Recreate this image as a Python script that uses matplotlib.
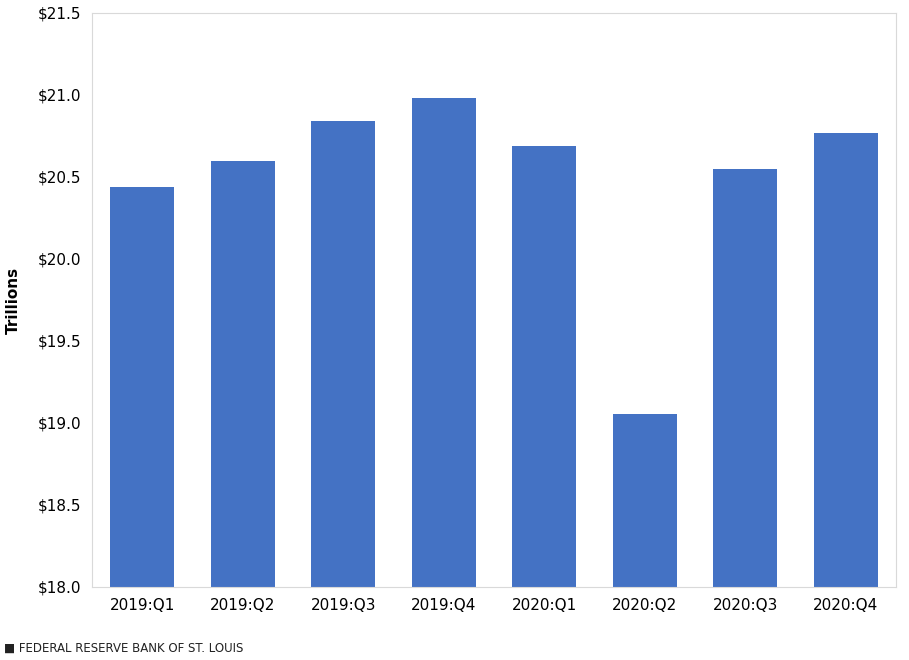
import matplotlib
matplotlib.use("Agg")
from matplotlib import pyplot as plt

quarters = ["2019:Q1", "2019:Q2", "2019:Q3", "2019:Q4", "2020:Q1", "2020:Q2", "2020:Q3", "2020:Q4"]
gdp = [20.44, 20.60, 20.84, 20.98, 20.69, 19.055, 20.55, 20.77]

fig = plt.figure(figsize=(9.09, 6.60), dpi=100)
ax = fig.add_axes([92/909, 1-587/660, (896-92)/909, (587-13)/660])
ax.bar(range(len(quarters)), gdp, width=0.64, color="#4472c4")
ax.set_ylim(18, 21.5)
ax.set_xlim(-0.5, len(quarters)-0.5)
ax.set_yticks([18 + 0.5*i for i in range(8)])
ax.set_yticklabels(["$%.1f" % (18 + 0.5*i) for i in range(8)], fontsize=11)
ax.set_xticks(range(len(quarters)))
ax.set_xticklabels(quarters, fontsize=11)
ax.tick_params(length=0, pad=8)
for s in ax.spines.values():
    s.set_color("#d9d9d9")
ax.set_ylabel("Trillions", fontsize=11, fontweight="bold", labelpad=12)
fig.text(0.004, 0.012, "■ FEDERAL RESERVE BANK OF ST. LOUIS", fontsize=8.5, color="#222222")
fig.savefig("out.png")
